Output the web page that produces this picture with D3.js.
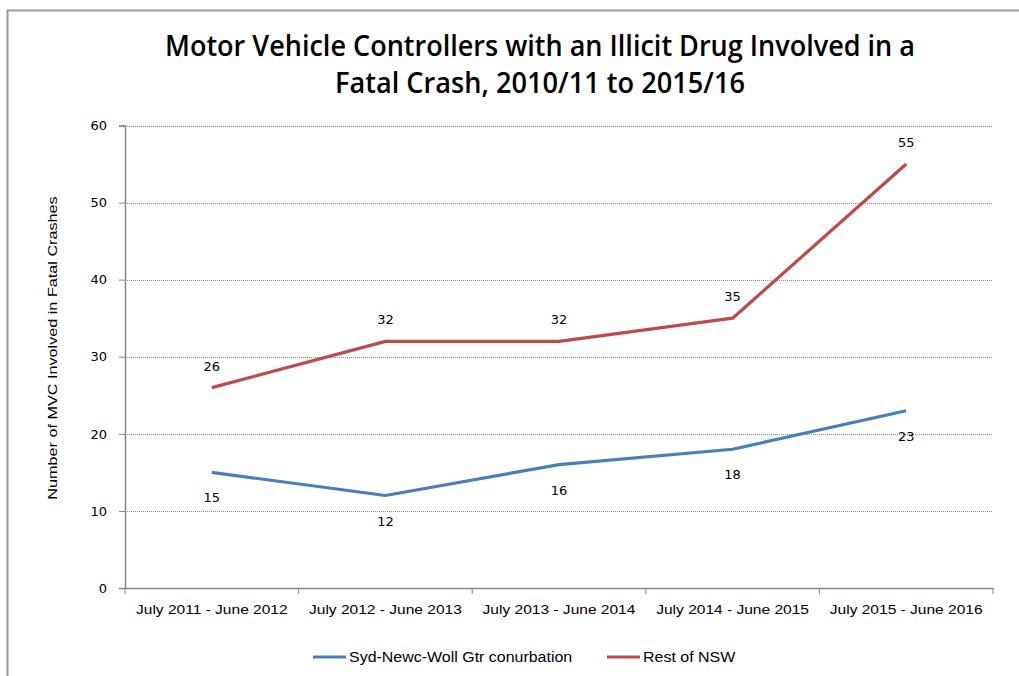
<!DOCTYPE html>
<html><head><meta charset="utf-8">
<script src="https://cdn.jsdelivr.net/npm/d3@7"></script>
<style>
body{margin:0;background:#fff;}
text{font-family:"Liberation Sans",Arial,sans-serif;}
</style></head>
<body>
<svg id="chart" width="1019" height="676"></svg>
<script>
const categories = ["July 2011 - June 2012","July 2012 - June 2013","July 2013 - June 2014","July 2014 - June 2015","July 2015 - June 2016"];
const sydValues = [15,12,16,18,23];
const restValues = [26,32,32,35,55];
const seriesNames = ["Syd-Newc-Woll Gtr conurbation","Rest of NSW"];
const yTicks = [0,10,20,30,40,50,60];
const titleLines = ["Motor Vehicle Controllers with an Illicit Drug Involved in a","Fatal Crash, 2010/11 to 2015/16"];
const yTitle = "Number of MVC Involved in Fatal Crashes";

const svg = d3.select("#chart");
const m = {left:125, right:993, top:125.5, bottom:588};
const x = d3.scaleBand().domain(categories).range([m.left, m.right]);
const y = d3.scaleLinear().domain([0,60]).range([m.bottom, m.top]);
const numFont = "'DejaVu Sans',sans-serif";

// stretch text horizontally to mimic the wider reference typeface
function stretch(sel, k){
  sel.each(function(){
    const len = this.getComputedTextLength();
    d3.select(this).attr("textLength", len*k).attr("lengthAdjust","spacingAndGlyphs");
  });
}

svg.append("rect").attr("x",7.5).attr("y",10.5).attr("width",1100).attr("height",1000)
  .attr("fill","none").attr("stroke","#9a9a9a").attr("stroke-width",2);

// title
const tt = svg.append("g").selectAll("text").data(titleLines).join("text")
  .attr("x",540).attr("y",(d,i)=>56+i*37).attr("text-anchor","middle")
  .attr("font-size",28).attr("fill","#000")
  .style("font-family","'Open Sans',sans-serif").style("font-weight",600).text(d=>d);
tt.each(function(d,i){
  d3.select(this).attr("textLength", i===0?750:410).attr("lengthAdjust","spacingAndGlyphs");
});

// gridlines
svg.append("g").selectAll("line").data(yTicks.filter(t=>t>0)).join("line")
  .attr("x1",m.left).attr("x2",m.right).attr("y1",d=>Math.round(y(d))+0.5).attr("y2",d=>Math.round(y(d))+0.5)
  .attr("stroke","#8c8c8c").attr("stroke-width",1).attr("stroke-dasharray","1,1");

// y axis
const ya = svg.append("g").attr("transform",`translate(${m.left},0)`)
  .call(d3.axisLeft(y).tickValues(yTicks).tickSize(6).tickPadding(12));
ya.select(".domain").attr("stroke","#868686").attr("stroke-width",1.5);
ya.selectAll(".tick line").attr("stroke","#868686");
ya.selectAll(".tick text").attr("fill","#000").style("font-family",numFont).attr("font-size",13);

// x axis
const xa = svg.append("g").attr("transform",`translate(0,${m.bottom})`)
  .call(d3.axisBottom(x).tickSize(0).tickPadding(16));
xa.select(".domain").attr("stroke","#868686").attr("stroke-width",1.5);
xa.selectAll(".tick text").attr("font-size",13.5).attr("fill","#000").call(stretch,1.15);
const bounds = categories.map(c=>x(c)).concat([m.right]);
xa.append("g").selectAll("line").data(bounds).join("line")
  .attr("x1",d=>d).attr("x2",d=>d).attr("y1",0).attr("y2",6).attr("stroke","#868686");

// y title
svg.append("text").attr("transform","translate(57,348) rotate(-90)").attr("text-anchor","middle")
  .attr("font-size",13.5).attr("fill","#000").text(yTitle).call(stretch,1.2);

const cx = c => x(c) + x.bandwidth()/2;
const line = d3.line().x((d,i)=>cx(categories[i])).y(d=>y(d));
const series = [
  {name:seriesNames[0], values:sydValues, color:"#4a7ebb", dy:30},
  {name:seriesNames[1], values:restValues, color:"#be4b48", dy:-17}
];
series.forEach(s=>{
  svg.append("path").datum(s.values).attr("d",line).attr("fill","none")
    .attr("stroke",s.color).attr("stroke-width",3.2).attr("stroke-linejoin","round");
  svg.append("g").selectAll("text").data(s.values).join("text")
    .attr("x",(d,i)=>cx(categories[i])).attr("y",d=>y(d)+s.dy).attr("text-anchor","middle")
    .attr("fill","#000").style("font-family",numFont).attr("font-size",13).text(d=>d);
});

// legend
const leg = [{x:313,color:"#4a7ebb",name:seriesNames[0]},{x:607,color:"#be4b48",name:seriesNames[1]}];
const lg = svg.append("g").selectAll("g").data(leg).join("g");
lg.append("line").attr("x1",d=>d.x).attr("x2",d=>d.x+33).attr("y1",657).attr("y2",657)
  .attr("stroke",d=>d.color).attr("stroke-width",3.2);
lg.append("text").attr("x",d=>d.x+36).attr("y",662).attr("font-size",14).attr("fill","#000").text(d=>d.name).call(stretch,1.14);
</script>
</body></html>
